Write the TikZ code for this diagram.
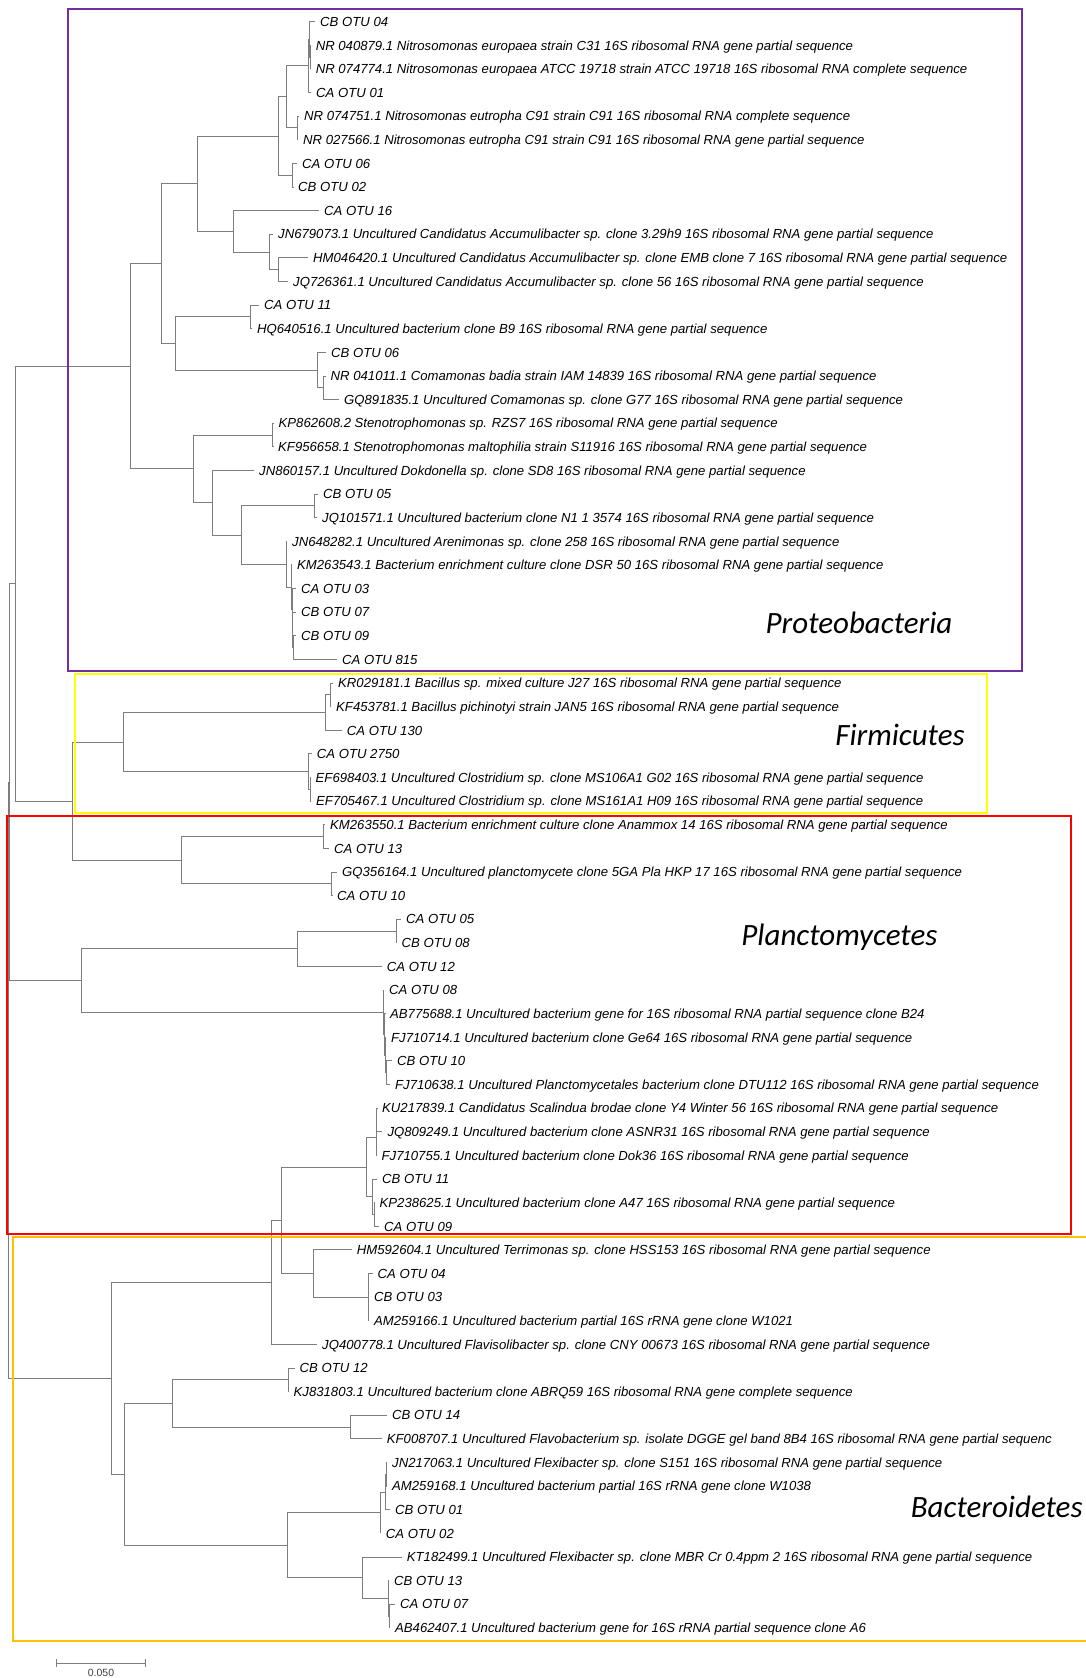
\documentclass[tikz,border=0pt]{standalone}
\usepackage{fontspec}
\setmainfont{Liberation Sans}
\newfontfamily\cladefont{Carlito}
\definecolor{treegray}{RGB}{125,125,125}
\definecolor{protcol}{RGB}{112,48,160}
\definecolor{firmcol}{RGB}{255,255,0}
\definecolor{plancol}{RGB}{255,0,0}
\definecolor{bactcol}{RGB}{255,192,0}
\newcommand\kids[2]{\foreach \c in {#2} {\draw[br] (#1) |- (\c);}}
\begin{document}
\begin{tikzpicture}[x=1pt,y=-1pt,
  br/.style={draw=treegray,line width=1pt},
  lab/.style={anchor=west,xshift=5pt,inner sep=0pt,text height=9.4pt,text depth=0pt,font=\fontsize{13.15}{15}\selectfont\itshape},
  clade/.style={inner sep=0pt,font=\cladefont\itshape\fontsize{31}{36}\selectfont},
  cladebox/.style={line width=2pt}]
\useasboundingbox (0,0) rectangle (1086,1678);
% ---------- leaves ----------
\coordinate (L1) at (315,21.7);
\coordinate (L2) at (310.6,45.32);
\coordinate (L3) at (310.6,68.94);
\coordinate (L4) at (311,92.56);
\coordinate (L5) at (299,116.18);
\coordinate (L6) at (298,139.8);
\coordinate (L7) at (297,163.42);
\coordinate (L8) at (293,187.04);
\coordinate (L9) at (319,210.66);
\coordinate (L10) at (273,234.28);
\coordinate (L11) at (308,257.9);
\coordinate (L12) at (288,281.52);
\coordinate (L13) at (259,305.14);
\coordinate (L14) at (252,328.76);
\coordinate (L15) at (326,352.38);
\coordinate (L16) at (325.5,376.0);
\coordinate (L17) at (339,399.62);
\coordinate (L18) at (273.5,423.24);
\coordinate (L19) at (273,446.86);
\coordinate (L20) at (254,470.48);
\coordinate (L21) at (318,494.1);
\coordinate (L22) at (317,517.72);
\coordinate (L23) at (287,541.34);
\coordinate (L24) at (292,564.96);
\coordinate (L25) at (296,588.58);
\coordinate (L26) at (296,612.2);
\coordinate (L27) at (296,635.82);
\coordinate (L28) at (337,659.44);
\coordinate (L29) at (333,683.06);
\coordinate (L30) at (331,706.68);
\coordinate (L31) at (341.7,730.3);
\coordinate (L32) at (311.7,753.92);
\coordinate (L33) at (310.5,777.54);
\coordinate (L34) at (311,801.16);
\coordinate (L35) at (325,824.78);
\coordinate (L36) at (329,848.4);
\coordinate (L37) at (337,872.02);
\coordinate (L38) at (332,895.64);
\coordinate (L39) at (401,919.26);
\coordinate (L40) at (396.5,942.88);
\coordinate (L41) at (381.7,966.5);
\coordinate (L42) at (384,990.12);
\coordinate (L43) at (385,1013.74);
\coordinate (L44) at (386,1037.36);
\coordinate (L45) at (392,1060.98);
\coordinate (L46) at (390,1084.6);
\coordinate (L47) at (377,1108.22);
\coordinate (L48) at (382.3,1131.84);
\coordinate (L49) at (376.5,1155.46);
\coordinate (L50) at (377,1179.08);
\coordinate (L51) at (374.5,1202.7);
\coordinate (L52) at (379,1226.32);
\coordinate (L53) at (351.7,1249.94);
\coordinate (L54) at (372.5,1273.56);
\coordinate (L55) at (369,1297.18);
\coordinate (L56) at (369,1320.8);
\coordinate (L57) at (317,1344.42);
\coordinate (L58) at (294.5,1368.04);
\coordinate (L59) at (288.5,1391.66);
\coordinate (L60) at (387,1415.28);
\coordinate (L61) at (381.7,1438.9);
\coordinate (L62) at (387,1462.52);
\coordinate (L63) at (387,1486.14);
\coordinate (L64) at (390,1509.76);
\coordinate (L65) at (380.7,1533.38);
\coordinate (L66) at (401.7,1557.0);
\coordinate (L67) at (389,1580.62);
\coordinate (L68) at (395,1604.24);
\coordinate (L69) at (390,1627.86);
% ---------- internal nodes ----------
\coordinate (n1c) at (310,57.13);
\coordinate (n1b) at (309.3,39.42);
\coordinate (n1a) at (308.3,65.99);
\coordinate (n56) at (297.3,127.99);
\coordinate (nt1) at (286.7,96.99);
\coordinate (n78) at (292.7,175.23);
\coordinate (nitro) at (278.3,136.11);
\coordinate (acc3) at (278.3,269.71);
\coordinate (acc2) at (269.3,252.0);
\coordinate (accum) at (233.3,231.33);
\coordinate (pr1a) at (197.3,183.72);
\coordinate (n1314) at (250,316.95);
\coordinate (n1617) at (323.3,387.81);
\coordinate (pr1b2) at (317.7,370.1);
\coordinate (pr1b) at (175,343.52);
\coordinate (pr1) at (161.7,263.62);
\coordinate (n1819) at (272.7,435.05);
\coordinate (n2122) at (314.3,505.91);
\coordinate (pr2h) at (293.3,647.63);
\coordinate (pr2g) at (292.7,629.92);
\coordinate (pr2f) at (292,609.25);
\coordinate (pr2e) at (291,587.1);
\coordinate (pr2d) at (286,564.22);
\coordinate (pr2c) at (241.7,535.07);
\coordinate (pr2b) at (212.3,502.78);
\coordinate (pr2) at (193.3,468.91);
\coordinate (proteo) at (130,366.27);
\coordinate (f1a) at (330,694.87);
\coordinate (f1) at (325,712.59);
\coordinate (f2a) at (310.3,789.35);
\coordinate (f2) at (308.3,771.64);
\coordinate (firm) at (123.3,742.11);
\coordinate (pa1) at (323.3,836.59);
\coordinate (pa2) at (331.7,883.83);
\coordinate (plA) at (181.7,860.21);
\coordinate (fp) at (72.7,801.16);
\coordinate (x1) at (15.7,583.71);
\coordinate (n3940) at (396,931.07);
\coordinate (pb1) at (297.7,948.79);
\coordinate (pb2d) at (386,1072.79);
\coordinate (pb2c) at (385.3,1055.08);
\coordinate (pb2b) at (384.5,1034.41);
\coordinate (pb2) at (383.3,1012.27);
\coordinate (pb) at (81.7,980.53);
\coordinate (nn1) at (9.3,782.12);
\coordinate (c1a) at (376.7,1120.03);
\coordinate (c1) at (376,1137.75);
\coordinate (c2a) at (374.3,1214.51);
\coordinate (c2) at (372.7,1196.8);
\coordinate (plC) at (366.7,1167.27);
\coordinate (n5456) at (368.3,1297.18);
\coordinate (hm) at (313.3,1273.56);
\coordinate (p3a) at (281.7,1220.42);
\coordinate (p3) at (271.7,1282.42);
\coordinate (n5859) at (288.3,1379.85);
\coordinate (n6061) at (350,1427.09);
\coordinate (b2) at (172.3,1403.47);
\coordinate (b3c) at (386,1474.33);
\coordinate (b3b) at (385.3,1492.05);
\coordinate (b3a) at (380.7,1512.72);
\coordinate (b3f) at (389.3,1616.05);
\coordinate (b3e) at (388.3,1598.34);
\coordinate (b3d) at (362.7,1577.67);
\coordinate (b3) at (287.3,1545.2);
\coordinate (b1) at (124,1474.34);
\coordinate (bk) at (111,1378.38);
\coordinate (root) at (8,1080.25);
% ---------- branches ----------
\kids{n1c}{L2,L3}
\kids{n1b}{L1,n1c}
\kids{n1a}{n1b,L4}
\kids{n56}{L5,L6}
\kids{nt1}{n1a,n56}
\kids{n78}{L7,L8}
\kids{nitro}{nt1,n78}
\kids{acc3}{L11,L12}
\kids{acc2}{L10,acc3}
\kids{accum}{L9,acc2}
\kids{pr1a}{nitro,accum}
\kids{n1314}{L13,L14}
\kids{n1617}{L16,L17}
\kids{pr1b2}{L15,n1617}
\kids{pr1b}{n1314,pr1b2}
\kids{pr1}{pr1a,pr1b}
\kids{n1819}{L18,L19}
\kids{n2122}{L21,L22}
\kids{pr2h}{L27,L28}
\kids{pr2g}{L26,pr2h}
\kids{pr2f}{L25,pr2g}
\kids{pr2e}{L24,pr2f}
\kids{pr2d}{L23,pr2e}
\kids{pr2c}{n2122,pr2d}
\kids{pr2b}{L20,pr2c}
\kids{pr2}{n1819,pr2b}
\kids{proteo}{pr1,pr2}
\kids{f1a}{L29,L30}
\kids{f1}{f1a,L31}
\kids{f2a}{L33,L34}
\kids{f2}{L32,f2a}
\kids{firm}{f1,f2}
\kids{pa1}{L35,L36}
\kids{pa2}{L37,L38}
\kids{plA}{pa1,pa2}
\kids{fp}{firm,plA}
\kids{x1}{proteo,fp}
\kids{n3940}{L39,L40}
\kids{pb1}{n3940,L41}
\kids{pb2d}{L45,L46}
\kids{pb2c}{L44,pb2d}
\kids{pb2b}{L43,pb2c}
\kids{pb2}{L42,pb2b}
\kids{pb}{pb1,pb2}
\kids{nn1}{x1,pb}
\kids{c1a}{L47,L48}
\kids{c1}{c1a,L49}
\kids{c2a}{L51,L52}
\kids{c2}{L50,c2a}
\kids{plC}{c1,c2}
\kids{n5456}{L54,L55,L56}
\kids{hm}{L53,n5456}
\kids{p3a}{plC,hm}
\kids{p3}{p3a,L57}
\kids{n5859}{L58,L59}
\kids{n6061}{L60,L61}
\kids{b2}{n5859,n6061}
\kids{b3c}{L62,L63}
\kids{b3b}{b3c,L64}
\kids{b3a}{b3b,L65}
\kids{b3f}{L68,L69}
\kids{b3e}{L67,b3f}
\kids{b3d}{L66,b3e}
\kids{b3}{b3a,b3d}
\kids{b1}{b2,b3}
\kids{bk}{p3,b1}
\kids{root}{nn1,bk}
% ---------- labels ----------
\node[lab] (T1) at (L1) {CB OTU 04};
\node[lab] (T2) at (L2) {NR 040879.1 Nitrosomonas europaea strain C31 16S ribosomal RNA gene partial sequence};
\node[lab] (T3) at (L3) {NR 074774.1 Nitrosomonas europaea ATCC 19718 strain ATCC 19718 16S ribosomal RNA complete sequence};
\node[lab] (T4) at (L4) {CA OTU 01};
\node[lab] (T5) at (L5) {NR 074751.1 Nitrosomonas eutropha C91 strain C91 16S ribosomal RNA complete sequence};
\node[lab] (T6) at (L6) {NR 027566.1 Nitrosomonas eutropha C91 strain C91 16S ribosomal RNA gene partial sequence};
\node[lab] (T7) at (L7) {CA OTU 06};
\node[lab] (T8) at (L8) {CB OTU 02};
\node[lab] (T9) at (L9) {CA OTU 16};
\node[lab] (T10) at (L10) {JN679073.1 Uncultured Candidatus Accumulibacter sp. clone 3.29h9 16S ribosomal RNA gene partial sequence};
\node[lab] (T11) at (L11) {HM046420.1 Uncultured Candidatus Accumulibacter sp. clone EMB clone 7 16S ribosomal RNA gene partial sequence};
\node[lab] (T12) at (L12) {JQ726361.1 Uncultured Candidatus Accumulibacter sp. clone 56 16S ribosomal RNA gene partial sequence};
\node[lab] (T13) at (L13) {CA OTU 11};
\node[lab] (T14) at (L14) {HQ640516.1 Uncultured bacterium clone B9 16S ribosomal RNA gene partial sequence};
\node[lab] (T15) at (L15) {CB OTU 06};
\node[lab] (T16) at (L16) {NR 041011.1 Comamonas badia strain IAM 14839 16S ribosomal RNA gene partial sequence};
\node[lab] (T17) at (L17) {GQ891835.1 Uncultured Comamonas sp. clone G77 16S ribosomal RNA gene partial sequence};
\node[lab] (T18) at (L18) {KP862608.2 Stenotrophomonas sp. RZS7 16S ribosomal RNA gene partial sequence};
\node[lab] (T19) at (L19) {KF956658.1 Stenotrophomonas maltophilia strain S11916 16S ribosomal RNA gene partial sequence};
\node[lab] (T20) at (L20) {JN860157.1 Uncultured Dokdonella sp. clone SD8 16S ribosomal RNA gene partial sequence};
\node[lab] (T21) at (L21) {CB OTU 05};
\node[lab] (T22) at (L22) {JQ101571.1 Uncultured bacterium clone N1 1 3574 16S ribosomal RNA gene partial sequence};
\node[lab] (T23) at (L23) {JN648282.1 Uncultured Arenimonas sp. clone 258 16S ribosomal RNA gene partial sequence};
\node[lab] (T24) at (L24) {KM263543.1 Bacterium enrichment culture clone DSR 50 16S ribosomal RNA gene partial sequence};
\node[lab] (T25) at (L25) {CA OTU 03};
\node[lab] (T26) at (L26) {CB OTU 07};
\node[lab] (T27) at (L27) {CB OTU 09};
\node[lab] (T28) at (L28) {CA OTU 815};
\node[lab] (T29) at (L29) {KR029181.1 Bacillus sp. mixed culture J27 16S ribosomal RNA gene partial sequence};
\node[lab] (T30) at (L30) {KF453781.1 Bacillus pichinotyi strain JAN5 16S ribosomal RNA gene partial sequence};
\node[lab] (T31) at (L31) {CA OTU 130};
\node[lab] (T32) at (L32) {CA OTU 2750};
\node[lab] (T33) at (L33) {EF698403.1 Uncultured Clostridium sp. clone MS106A1 G02 16S ribosomal RNA gene partial sequence};
\node[lab] (T34) at (L34) {EF705467.1 Uncultured Clostridium sp. clone MS161A1 H09 16S ribosomal RNA gene partial sequence};
\node[lab] (T35) at (L35) {KM263550.1 Bacterium enrichment culture clone Anammox 14 16S ribosomal RNA gene partial sequence};
\node[lab] (T36) at (L36) {CA OTU 13};
\node[lab] (T37) at (L37) {GQ356164.1 Uncultured planctomycete clone 5GA Pla HKP 17 16S ribosomal RNA gene partial sequence};
\node[lab] (T38) at (L38) {CA OTU 10};
\node[lab] (T39) at (L39) {CA OTU 05};
\node[lab] (T40) at (L40) {CB OTU 08};
\node[lab] (T41) at (L41) {CA OTU 12};
\node[lab] (T42) at (L42) {CA OTU 08};
\node[lab] (T43) at (L43) {AB775688.1 Uncultured bacterium gene for 16S ribosomal RNA partial sequence clone B24};
\node[lab] (T44) at (L44) {FJ710714.1 Uncultured bacterium clone Ge64 16S ribosomal RNA gene partial sequence};
\node[lab] (T45) at (L45) {CB OTU 10};
\node[lab] (T46) at (L46) {FJ710638.1 Uncultured Planctomycetales bacterium clone DTU112 16S ribosomal RNA gene partial sequence};
\node[lab] (T47) at (L47) {KU217839.1 Candidatus Scalindua brodae clone Y4 Winter 56 16S ribosomal RNA gene partial sequence};
\node[lab] (T48) at (L48) {JQ809249.1 Uncultured bacterium clone ASNR31 16S ribosomal RNA gene partial sequence};
\node[lab] (T49) at (L49) {FJ710755.1 Uncultured bacterium clone Dok36 16S ribosomal RNA gene partial sequence};
\node[lab] (T50) at (L50) {CB OTU 11};
\node[lab] (T51) at (L51) {KP238625.1 Uncultured bacterium clone A47 16S ribosomal RNA gene partial sequence};
\node[lab] (T52) at (L52) {CA OTU 09};
\node[lab] (T53) at (L53) {HM592604.1 Uncultured Terrimonas sp. clone HSS153 16S ribosomal RNA gene partial sequence};
\node[lab] (T54) at (L54) {CA OTU 04};
\node[lab] (T55) at (L55) {CB OTU 03};
\node[lab] (T56) at (L56) {AM259166.1 Uncultured bacterium partial 16S rRNA gene clone W1021};
\node[lab] (T57) at (L57) {JQ400778.1 Uncultured Flavisolibacter sp. clone CNY 00673 16S ribosomal RNA gene partial sequence};
\node[lab] (T58) at (L58) {CB OTU 12};
\node[lab] (T59) at (L59) {KJ831803.1 Uncultured bacterium clone ABRQ59 16S ribosomal RNA gene complete sequence};
\node[lab] (T60) at (L60) {CB OTU 14};
\node[lab] (T61) at (L61) {KF008707.1 Uncultured Flavobacterium sp. isolate DGGE gel band 8B4 16S ribosomal RNA gene partial sequenc};
\node[lab] (T62) at (L62) {JN217063.1 Uncultured Flexibacter sp. clone S151 16S ribosomal RNA gene partial sequence};
\node[lab] (T63) at (L63) {AM259168.1 Uncultured bacterium partial 16S rRNA gene clone W1038};
\node[lab] (T64) at (L64) {CB OTU 01};
\node[lab] (T65) at (L65) {CA OTU 02};
\node[lab] (T66) at (L66) {KT182499.1 Uncultured Flexibacter sp. clone MBR Cr 0.4ppm 2 16S ribosomal RNA gene partial sequence};
\node[lab] (T67) at (L67) {CB OTU 13};
\node[lab] (T68) at (L68) {CA OTU 07};
\node[lab] (T69) at (L69) {AB462407.1 Uncultured bacterium gene for 16S rRNA partial sequence clone A6};
% ---------- clade boxes ----------
\draw[cladebox,protcol] (67.7,9) rectangle (1021.7,670.7);
\draw[cladebox,firmcol] (75,674) rectangle (986.7,812.7);
\draw[cladebox,plancol] (6.7,816) rectangle (1071,1234.3);
\draw[cladebox,bactcol] (13.3,1236.7) rectangle (1100,1641);
\node[clade] (cP) at (859,623) {Proteobacteria};
\node[clade] (cF) at (900,735) {Firmicutes};
\node[clade] (cL) at (839.4,937.3) {Planctomycetes};
\node[clade] (cB) at (996.7,1506.7) {Bacteroidetes};
% ---------- scale bar ----------
\coordinate (sb1) at (56.7,1663.3);
\coordinate (sb2) at (145.7,1663.3);
\draw[br] (sb1) -- (sb2);
\draw[br] ([yshift=4pt]sb1) -- ([yshift=-4pt]sb1);
\draw[br] ([yshift=4pt]sb2) -- ([yshift=-4pt]sb2);
\node[inner sep=0pt,text=black!75,font=\fontsize{10.5}{12}\selectfont] (sbl) at (101,1673.3) {0.050};
\end{tikzpicture}
\end{document}
